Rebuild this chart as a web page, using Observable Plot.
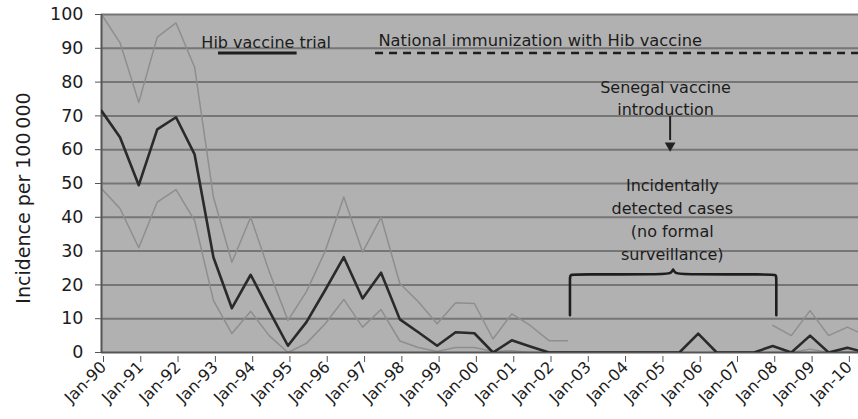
<!DOCTYPE html>
<html>
<head>
<meta charset="utf-8">
<script src="https://cdn.jsdelivr.net/npm/d3@7"></script>
<script src="https://cdn.jsdelivr.net/npm/@observablehq/plot@0.6"></script>
<style>
  html, body { margin: 0; padding: 0; background: #fff; }
  #chart svg { display: block; font-family: "DejaVu Sans", sans-serif; }
</style>
</head>
<body>
<div id="chart"></div>
<script>
// ---- data ----
const periods = ["Jan-90","Jul-90","Jan-91","Jul-91","Jan-92","Jul-92","Jan-93","Jul-93","Jan-94","Jul-94",
  "Jan-95","Jul-95","Jan-96","Jul-96","Jan-97","Jul-97","Jan-98","Jul-98","Jan-99","Jul-99",
  "Jan-00","Jul-00","Jan-01","Jul-01","Jan-02","Jul-02","Jan-03","Jul-03","Jan-04","Jul-04",
  "Jan-05","Jul-05","Jan-06","Jul-06","Jan-07","Jul-07","Jan-08","Jul-08","Jan-09","Jul-09",
  "Jan-10","Jul-10"];
const incidence = [71.5,63.7,49.5,66,69.6,58.6,28.2,13.1,23,12.4,
  2,9,18.5,28.2,16,23.6,9.8,6,2,6,
  5.7,0,3.6,1.8,0,0,0,0,0,0,
  0,0,5.6,0,0,0,1.9,0,5,0,
  1.4,0];
const upperCI = [100,91.7,74,93.3,97.5,84.4,46,26.7,40,24,
  9.5,18,30,46,29.7,40,20.4,15,8.5,14.7,
  14.5,4,11.4,8,3.5,3.5,null,null,null,null,
  null,null,null,null,null,null,8,5,12.4,5,
  7.5,5];
const lowerCI = [48.5,42.6,31,44.5,48.2,39,15.4,5.6,12.2,5,
  0,2.7,8.5,15.7,7.5,12.7,3.4,1.5,0.3,1.5,
  1.5,0.3,0.5,0,0,0,null,null,null,null,
  null,null,null,null,null,null,0,0,1,0,
  0.3,0];
const xTickLabels = ["Jan-90","Jan-91","Jan-92","Jan-93","Jan-94","Jan-95","Jan-96","Jan-97","Jan-98","Jan-99",
  "Jan-00","Jan-01","Jan-02","Jan-03","Jan-04","Jan-05","Jan-06","Jan-07","Jan-08","Jan-09","Jan-10"];
const yTicks = [0,10,20,30,40,50,60,70,80,90,100];
const yLabel = "Incidence per 100\u2009000";

// annotations
const trialText = "Hib vaccine trial";
const trialTextAt = ["1992-09-05", 91.7];
const trialSpan = ["1993-02-20", "1995-04-01"];
const nationalText = "National immunization with Hib vaccine";
const nationalTextAt = ["1997-06-05", 92.2];
const nationalStart = "1997-05-08";
const barLevel = 88.6;
const senegalText = "Senegal vaccine\nintroduction";
const senegalTextAt = ["2005-02-15", 75.7];
const senegalArrow = ["2005-04-01", 69.8, 61.2];
const incidentalText = "Incidentally\ndetected cases\n(no formal\nsurveillance)";
const incidentalTextAt = ["2005-04-22", 39.8];
const braceSpan = ["2002-07-25", "2008-02-05"];
const braceLevels = {bottom: 11, top: 23.1, tip: 24.6};
const xDomain = ["1990-01-01", "2010-04-20"];

// ---- build ----
const parsePeriod = d3.utcParse("%b-%y");
const parseDay = d3.utcParse("%Y-%m-%d");
const fmt = d3.utcFormat("%b-%y");
const series = periods.map((p, i) => ({date: parsePeriod(p), inc: incidence[i], hi: upperCI[i], lo: lowerCI[i]}));
const tickDates = xTickLabels.map(parsePeriod);
const domain = xDomain.map(parseDay);

// brace path points
const b0 = parseDay(braceSpan[0]), b1 = parseDay(braceSpan[1]);
const bm = new Date((+b0 + +b1) / 2);
const day = 864e5;
const bracePts = [
  [b0, braceLevels.bottom], [b0, braceLevels.bottom],
  [b0, braceLevels.top - 1.2], [b0, braceLevels.top], [new Date(+b0 + 60*day), braceLevels.top],
  [new Date(+bm - 90*day), braceLevels.top], [new Date(+bm - 20*day), braceLevels.top + 0.3],
  [bm, braceLevels.tip], [bm, braceLevels.tip],
  [new Date(+bm + 20*day), braceLevels.top + 0.3], [new Date(+bm + 90*day), braceLevels.top],
  [new Date(+b1 - 60*day), braceLevels.top], [b1, braceLevels.top], [b1, braceLevels.top - 1.2],
  [b1, braceLevels.bottom], [b1, braceLevels.bottom]
].map(([x, y]) => ({x, y}));

const textColor = "#1c1c1c";
const arrowX = parseDay(senegalArrow[0]);
const chart = Plot.plot({
  width: 858,
  height: 419,
  marginLeft: 101,
  marginRight: 0,
  marginTop: 14,
  marginBottom: 67,
  style: {fontFamily: "DejaVu Sans, sans-serif", color: textColor, background: "#fff", overflow: "hidden"},
  x: {type: "utc", domain},
  y: {domain: [0, 100]},
  marks: [
    Plot.frame({fill: "#b1b1b1", stroke: null}),
    Plot.ruleY(yTicks.filter(d => d > 0), {stroke: "#767676", strokeWidth: 2}),
    Plot.line(series, {x: "date", y: "hi", stroke: "#8e8e8e", strokeWidth: 1.5, clip: true}),
    Plot.line(series, {x: "date", y: "lo", stroke: "#8e8e8e", strokeWidth: 1.5, clip: true}),
    Plot.ruleY([0], {stroke: "#555", strokeWidth: 2}),
    Plot.ruleX([domain[0]], {stroke: "#555", strokeWidth: 2}),
    Plot.line(series, {x: "date", y: "inc", stroke: "#2a2a2a", strokeWidth: 2.6, clip: true}),
    Plot.axisY({ticks: yTicks, tickSize: 6, tickPadding: 12, fontSize: 17.5, label: null, stroke: "#555"}),
    Plot.axisX({ticks: tickDates, tickFormat: fmt, tickRotate: -45, tickSize: 6, tickPadding: 2, fontSize: 16, dx: 2, dy: 4, label: null, stroke: "#555"}),
    Plot.text([yLabel], {frameAnchor: "left", y: [45.7], dx: -78, rotate: -90, fontSize: 19, textAnchor: "middle", fill: textColor}),
    // annotations
    Plot.text([trialText], {x: [parseDay(trialTextAt[0])], y: [trialTextAt[1]], textAnchor: "start", fontSize: 16, fill: textColor}),
    Plot.ruleY([barLevel], {x1: parseDay(trialSpan[0]), x2: parseDay(trialSpan[1]), stroke: "#1e1e1e", strokeWidth: 3}),
    Plot.text([nationalText], {x: [parseDay(nationalTextAt[0])], y: [nationalTextAt[1]], textAnchor: "start", fontSize: 16.3, fill: textColor}),
    Plot.ruleY([barLevel], {x1: parseDay(nationalStart), x2: domain[1], stroke: "#1e1e1e", strokeWidth: 2.6, strokeDasharray: "8,6"}),
    Plot.text([senegalText], {x: [parseDay(senegalTextAt[0])], y: [senegalTextAt[1]], fontSize: 16, lineHeight: 1.375, fill: textColor}),
    Plot.ruleX([arrowX], {y1: senegalArrow[1], y2: senegalArrow[2] + 1.5, stroke: "#222", strokeWidth: 2}),
    Plot.dot([arrowX], {x: d => d, y: [senegalArrow[2]], symbol: "triangle", rotate: 180, r: 4, fill: "#222", stroke: null}),
    Plot.text([incidentalText], {x: [parseDay(incidentalTextAt[0])], y: [incidentalTextAt[1]], fontSize: 16, lineHeight: 1.44, fill: textColor}),
    Plot.line(bracePts, {x: "x", y: "y", curve: "basis", stroke: "#1e1e1e", strokeWidth: 2.6})
  ]
});
document.getElementById("chart").appendChild(chart);
</script>
</body>
</html>
